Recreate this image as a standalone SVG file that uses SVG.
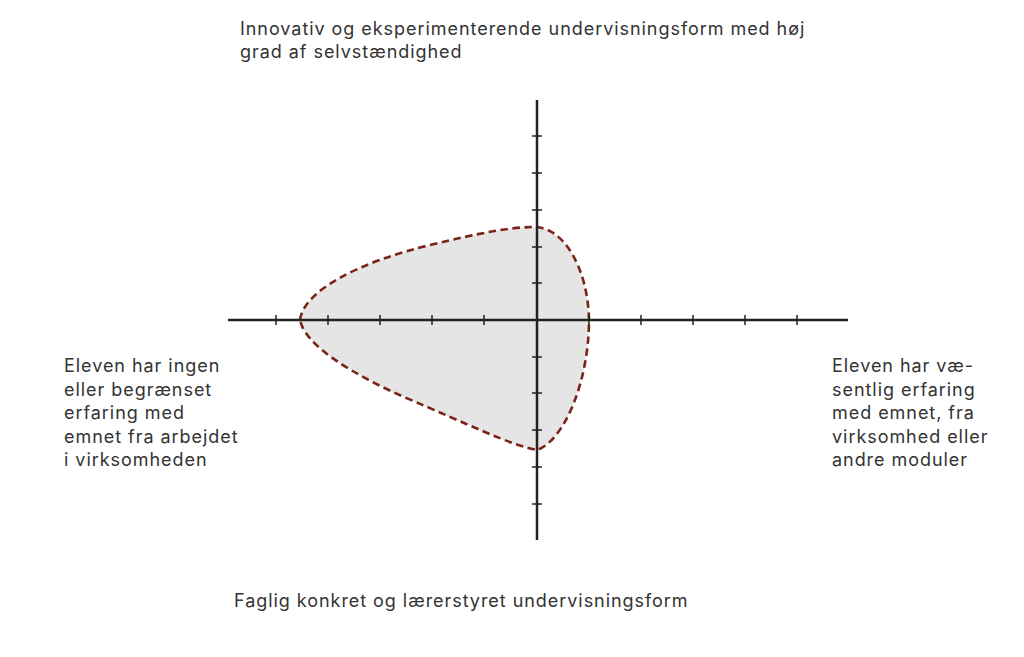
<svg xmlns="http://www.w3.org/2000/svg" width="1024" height="657" viewBox="0 0 1024 657">
<style>
text{font-family:Inter,"Noto Sans","Liberation Sans",sans-serif;font-size:18px;letter-spacing:0.95px;fill:#333333}
.axis{stroke:#222222;stroke-width:2.5;fill:none}
.tick{stroke:#222222;stroke-width:1.5;fill:none}
.blob{fill:#e5e5e5;stroke:#7a2418;stroke-width:2.6;stroke-dasharray:7.5 4.5}
</style>
<rect width="1024" height="657" fill="#ffffff"/>
<g id="region">
<path class="blob" d="M300,320 C304,290 360,262 430,245 C480,233 510,227 535,227 C565,228 588,270 589,320 C589,380 565,440 537,450 C510,445 470,425 404,397 C350,373 305,345 300,320 Z"/>
</g>
<g id="axes">
<line class="axis" x1="228" y1="320" x2="848" y2="320"/>
<line class="axis" x1="537" y1="100" x2="537" y2="540"/>
<path class="tick" d="M276,315v10M328,315v10M380,315v10M432,315v10M484,315v10M589,315v10M641,315v10M693,315v10M745,315v10M797,315v10"/>
<path class="tick" d="M532,136h10M532,173h10M532,210h10M532,247h10M532,283h10M532,357h10M532,393h10M532,430h10M532,467h10M532,504h10"/>
</g>
<g id="label-top">
<text x="240" y="35">Innovativ og eksperimenterende undervisningsform med høj</text>
<text x="240" y="58">grad af selvstændighed</text>
</g>
<g id="label-left">
<text x="64" y="372">Eleven har ingen</text>
<text x="64" y="395.5">eller begrænset</text>
<text x="64" y="419">erfaring med</text>
<text x="64" y="442.5">emnet fra arbejdet</text>
<text x="64" y="466">i virksomheden</text>
</g>
<g id="label-right">
<text x="832" y="372">Eleven har væ-</text>
<text x="832" y="395.5">sentlig erfaring</text>
<text x="832" y="419">med emnet, fra</text>
<text x="832" y="442.5">virksomhed eller</text>
<text x="832" y="466">andre moduler</text>
</g>
<g id="label-bottom">
<text x="234" y="607">Faglig konkret og lærerstyret undervisningsform</text>
</g>
</svg>
